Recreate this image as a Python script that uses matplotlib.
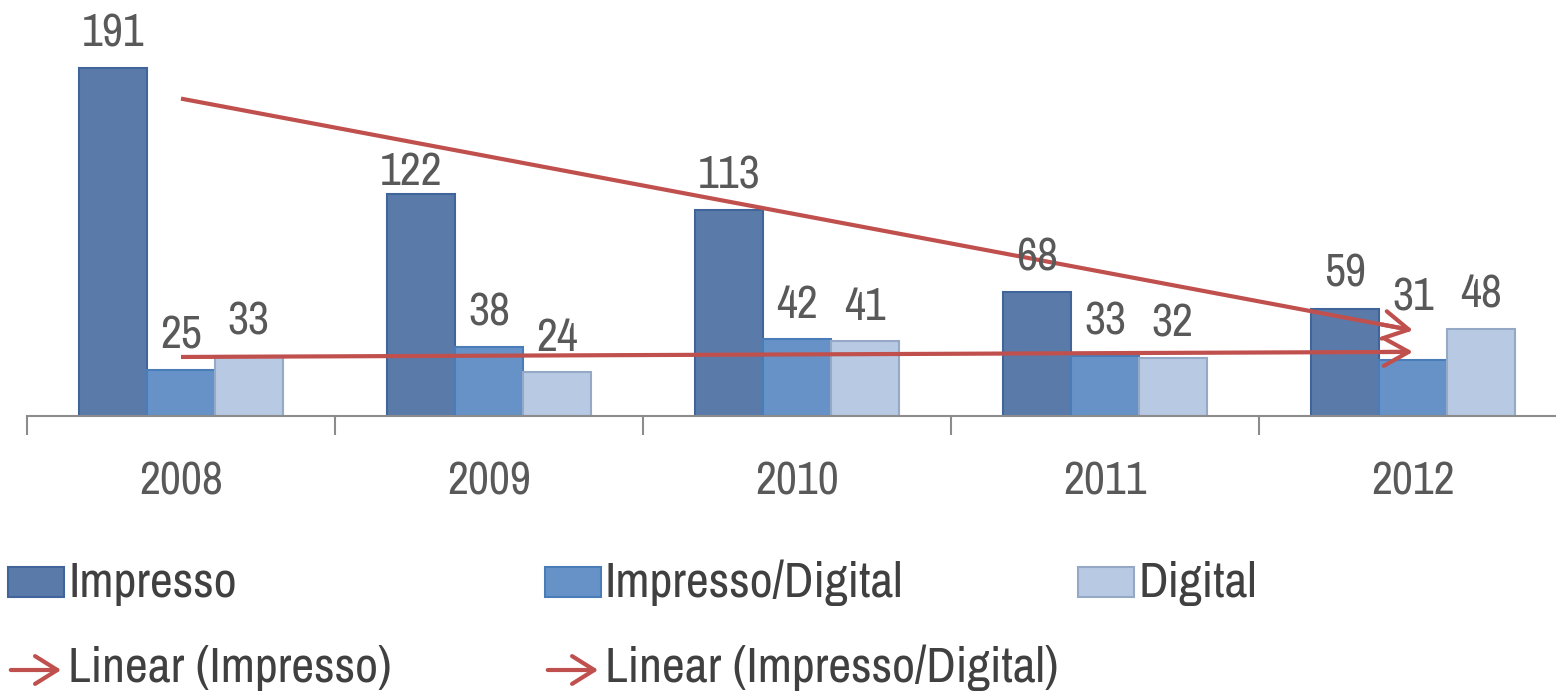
import matplotlib
matplotlib.use("Agg")
import matplotlib.pyplot as plt
import matplotlib.font_manager as fm
import numpy as np
from matplotlib.patches import Rectangle, FancyArrowPatch

# fonte estreita (tipo Arial Narrow), a primeira que existir
instaladas = set(f.name for f in fm.fontManager.ttflist)
preferidas = ['Liberation Sans Narrow', 'Arial Narrow', 'Archivo Narrow', 'PT Sans Narrow',
              'Roboto Condensed', 'Pragati Narrow', 'Fira Sans Condensed',
              'IBM Plex Sans Condensed', 'Encode Sans Condensed', 'DejaVu Sans']
fonte = [f for f in preferidas if f in instaladas][0]
plt.rcParams['font.family'] = [fonte, 'DejaVu Sans']

# dados
anos = ["2008", "2009", "2010", "2011", "2012"]
impresso = [191, 122, 113, 68, 59]
impresso_digital = [25, 38, 42, 33, 31]
digital = [33, 24, 41, 32, 48]

series = ["Impresso", "Impresso/Digital", "Digital"]
cores = ["#5A7BAA", "#6692C8", "#B7C9E3"]
bordas = ["#41659A", "#4A7DB8", "#95A8C5"]
vermelho = "#C0504D"

# rotulos que foram movidos no original (serie, ano): (dx, dy) em pontos
ajustes = {(0, 1): (-7, -9), (1, 4): (0, 20)}

W, H = 1556, 694
fig = plt.figure(figsize=(W / 100, H / 100), dpi=100)
ax = fig.add_axes([27 / W, (H - 416) / H, (W - 27) / W, 416 / H])

x = np.arange(len(anos))
larg = 0.22
for i, (vals, c, b) in enumerate(zip([impresso, impresso_digital, digital], cores, bordas)):
    pos = x + (i - 1) * larg
    ax.bar(pos, vals, width=larg, color=c, edgecolor=b, linewidth=1.5, zorder=2)
    for j, (p, v) in enumerate(zip(pos, vals)):
        dx, dy = ajustes.get((i, j), (0, 0))
        ax.annotate(str(v), (p, v), xytext=(dx, 15.5 + dy), textcoords="offset points",
                    ha="center", va="baseline", fontsize=33, color="#595959", zorder=4)

# linhas de tendencia (regressao linear)
for vals in [impresso, impresso_digital]:
    a, b0 = np.polyfit(x, vals, 1)
    y0, y1 = b0 + a * x[0], b0 + a * x[-1]
    ax.plot([x[0], x[-1] - 0.02], [y0, y1 - a * 0.02], color=vermelho, lw=3, zorder=3,
            solid_capstyle="butt")
    ax.annotate("", xy=(x[-1], y1), xytext=(x[-1] - 0.1, y1 - a * 0.1),
                arrowprops=dict(arrowstyle="->, head_length=0.9, head_width=0.5",
                                color=vermelho, lw=3, mutation_scale=20, shrinkA=0, shrinkB=0),
                zorder=3)

for s in ["top", "right", "left"]:
    ax.spines[s].set_visible(False)
ax.spines["bottom"].set_color("#8C8C8C")
ax.spines["bottom"].set_linewidth(1.5)
ax.set_yticks([])
ax.set_xticks(np.arange(-0.5, 4.0, 1.0))
ax.set_xticklabels([])
ax.tick_params(axis="x", length=14, width=1.5, color="#8C8C8C")
ax.set_xticks(x, minor=True)
ax.set_xticklabels(anos, minor=True, fontsize=33, color="#595959")
ax.tick_params(axis="x", which="minor", length=0, pad=32)
ax.set_xlim(-0.5, -0.5 + (W - 27) / 308)
ax.set_ylim(0, 416 / (348 / 191))

# legenda manual
def fx(px):
    return px / W

def fy(py):
    return (H - py) / H

colunas = [8, 545, 1078]
for cx, nome, c, b in zip(colunas, series, cores, bordas):
    fig.add_artist(Rectangle((fx(cx), fy(597)), 56 / W, 30 / H, facecolor=c,
                             edgecolor=b, linewidth=1.5, transform=fig.transFigure))
    fig.text(fx(cx + 60), fy(583), nome, fontsize=36, color="#404040", va="center", ha="left")

for cx, nome in zip(colunas[:2], ["Linear (Impresso)", "Linear (Impresso/Digital)"]):
    fig.add_artist(FancyArrowPatch(
        (fx(cx), fy(670)), (fx(cx + 56), fy(670)), transform=fig.transFigure,
        arrowstyle="->, head_length=0.8, head_width=0.5", mutation_scale=20,
        color=vermelho, lw=3))
    fig.text(fx(cx + 60), fy(668), nome, fontsize=36, color="#404040", va="center", ha="left")

fig.savefig("out.png", dpi=100)
